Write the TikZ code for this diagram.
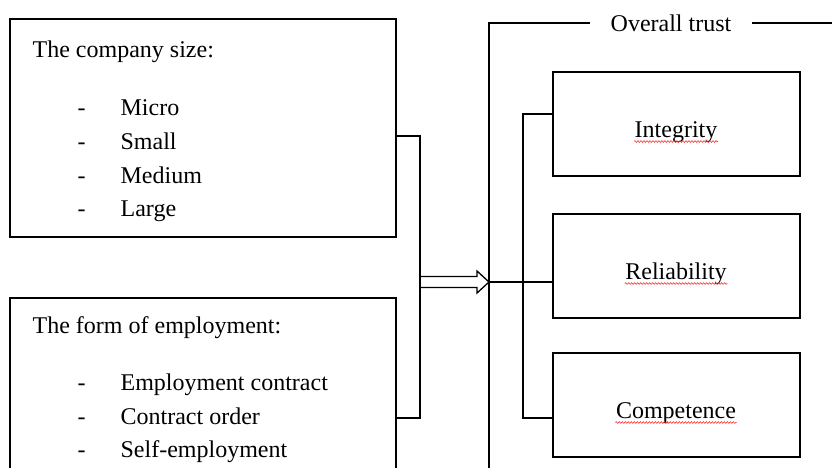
\documentclass[tikz,border=0pt]{standalone}
\usepackage{fontspec}
\setmainfont{Liberation Serif}
\usetikzlibrary{calc,decorations.pathmorphing}

\tikzset{
  lbox/.style={draw, minimum width=386pt},
  rbox/.style={draw, minimum width=247pt, minimum height=104pt},
  spell/.style={red!80, line width=0.6pt, decorate,
    decoration={snake, amplitude=0.9pt, segment length=3pt}}
}

\begin{document}
\begin{tikzpicture}[x=1pt,y=-1pt,line width=1.3pt,
  every node/.style={font=\fontsize{24}{28}\selectfont, inner sep=0pt}]
\clip (0,0) rectangle (832,467);
% left side: the two factors
\node[lbox, minimum height=218pt] (size) at (203,128) {};
\node[lbox, minimum height=240pt] (form) at (203,418) {};
\node[anchor=base west] (sizet) at (32,57) {The company size:};
\foreach \y/\t [count=\i] in {115/Micro,149/Small,183/Medium,216/Large} {
  \node[anchor=base west] (sd\i) at (77,\y) {-};
  \node[anchor=base west] (si\i) at (120,\y) {\t};
}
\node[anchor=base west] (formt) at (32,333) {The form of employment:};
\foreach \y/\t [count=\i] in {390/Employment contract,424/Contract order,457/Self-employment} {
  \node[anchor=base west] (fd\i) at (77,\y) {-};
  \node[anchor=base west] (fi\i) at (120,\y) {\t};
}
% bracket and arrow
\coordinate (bk) at (420,282);
\coordinate (tip) at (489,282);
\draw ([yshift=-8pt]size.east) -| (bk);
\draw (form.east) -| (bk);
\draw ($(bk)+(0,-5.5)$) -- ($(tip)+(-12,-5.5)$) -- ($(tip)+(-12,-11)$) -- (tip)
  -- ($(tip)+(-12,11)$) -- ($(tip)+(-12,5.5)$) -- ($(bk)+(0,5.5)$);
% overall trust frame
\node[inner xsep=20pt] (trust) at (671,23) {Overall trust};
\coordinate (fbot) at (489,480);
\coordinate (fend) at (840,23);
\draw (trust.west) -| (fbot);
\draw (trust.east) -- (fend);
% trust dimensions
\foreach \n/\y/\t in {integ/124/Integrity,relia/266/Reliability,compet/405/Competence} {
  \node[rbox] (\n) at (676.5,\y) {};
  \node[anchor=base] (\n-t) at (676,\y+13) {\t};
  \draw[spell] ([yshift=-4.5pt]\n-t.base west) -- ([yshift=-4.5pt]\n-t.base east);
}
\coordinate (itop) at (523,114);
\coordinate (ibot) at (523,418);
\draw ([yshift=10pt]integ.west) -- (itop) -- (ibot) -- ([yshift=-13pt]compet.west);
\draw (tip) -- (tip -| relia.west);
\end{tikzpicture}
\end{document}
